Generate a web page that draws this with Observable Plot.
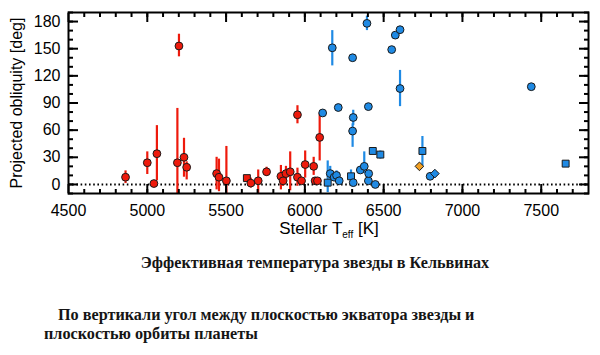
<!DOCTYPE html>
<html>
<head>
<meta charset="utf-8">
<script src="https://cdn.jsdelivr.net/npm/d3@7"></script>
<script src="https://cdn.jsdelivr.net/npm/@observablehq/plot@0.6"></script>
<style>
  body { margin: 0; background: #fff; }
  #wrap { position: relative; width: 600px; height: 355px; overflow: hidden; }
  #chart { position: absolute; left: 0; top: 0; }
  .lab { position: absolute; font-family: "Liberation Sans", Arial, sans-serif; font-size: 16px; color: #000; white-space: nowrap; line-height: 1; }
  .cap { position: absolute; font-family: "Liberation Serif", "Times New Roman", serif; font-weight: bold; font-size: 16.2px; color: #151515; white-space: nowrap; line-height: 1; }
  sub { font-size: 10px; vertical-align: -4px; }
</style>
</head>
<body>
<div id="wrap">
  <div id="chart"></div>
  <div class="lab" id="ylab" style="left:17px;top:103px;transform:translate(-50%,-50%) rotate(-90deg);">Projected obliquity [deg]</div>
  <div class="lab" id="xlab" style="left:329px;top:230px;transform:translate(-50%,-50%);font-size:17px;">Stellar T<sub>eff</sub> [K]</div>
  <div class="cap" style="left:315px;top:263px;transform:translate(-50%,-50%);">Эффективная температура звезды в Кельвинах</div>
  <div class="cap" style="left:58px;top:315px;transform:translateY(-50%);">По вертикали угол между плоскостью экватора звезды и</div>
  <div class="cap" style="left:44px;top:334px;transform:translateY(-50%);">плоскостью орбиты планеты</div>
</div>
<script>
// Stellar effective temperature [K]
const teff = [
  4862, 5000, 5042, 5061, 5191, 5201, 5233, 5250, 5440, 5455,
  5502, 5632, 5657, 5704, 5757, 5848, 5862, 5880, 5907, 5953,
  5953, 5979, 6002, 6056, 6065, 6080, 6094,
  6113, 6145, 6161, 6174, 6186, 6201, 6212, 6218, 6293, 6303,
  6303, 6307, 6307, 6352, 6377, 6394, 6403, 6403, 6405, 6431,
  6447, 6479, 6551, 6574, 6604, 6604, 6746, 6795, 6825, 7437,
  7655,
  6727
];
// Projected obliquity [deg]
const obliquity = [
  8, 24, 1, 34, 24, 153, 30, 19, 12, 8,
  4, 7, 1.5, 4, 14, 9, 4, 12, 14, 77,
  8, 4, 22, 20, 4, 4, 52,
  79, 2, 12, 151, 8, 10, 85, 4, 9, 140,
  59, 74, 2, 16, 20, 178, 86, 4, 12, 37,
  0, 33, 149, 165, 171, 106, 37, 9, 12, 108,
  23,
  20
];
// Lower and upper ends of the error bars [deg]
const errLow = [
  1, 11, 1, 4, -12, 141, 8, 5, -6, -8,
  -10, 7, -4, -10, 9, -6, -2, 5, -7, 67,
  -2, 4, 7, 10, 4, 4, 26,
  79, -9, 4, 131, 8, 6, 85, 4, 3, 137,
  41, 65, 2, 13, 12, 170, 83, 4, 12, 37,
  0, 28, 149, 162, 171, 86, 20, 9, 12, 108,
  23,
  20
];
const errHigh = [
  15, 36, 1, 65, 84, 166, 51, 25, 30, 28,
  42, 7, 7, 16, 19, 21, 12, 20, 36, 87,
  18, 4, 37, 30, 4, 4, 78,
  79, 26, 20, 170, 8, 15, 85, 4, 16, 143,
  67, 82, 2, 20, 36, 186, 89, 4, 12, 37,
  0, 37, 149, 167, 171, 126, 53, 9, 12, 108,
  23,
  20
];
// Group (colour) and marker shape of each system
const group = [
  ...Array(27).fill("cool"),
  ...Array(31).fill("hot"),
  "mid"
];
const marker = [
  "circle","circle","circle","circle","circle","circle","circle","circle","circle","circle",
  "circle","square","circle","circle","circle","circle","circle","circle","circle","circle",
  "circle","circle","circle","circle","circle","circle","circle",
  "circle","square","circle","circle","circle","circle","circle","circle","square","circle",
  "circle","circle","circle","circle","circle","circle","circle","circle","circle","square",
  "circle","square","circle","circle","circle","circle","square","circle","diamond2","circle",
  "square",
  "diamond2"
];
const groups = ["cool", "hot", "mid"];
const groupColors = ["#ee1a0c", "#1f8ae4", "#f2a022"];

// Axis ticks
const xMajor = [4500, 5000, 5500, 6000, 6500, 7000, 7500];
const xMinor = d3.range(4600, 7800, 100);
const yMajor = [0, 30, 60, 90, 120, 150, 180];
const yMinor = d3.range(-10, 191, 10);

const rows = teff.map((t, i) => ({
  t, o: obliquity[i], lo: errLow[i], hi: errHigh[i], g: group[i], m: marker[i]
}));

const tickOpts = {tickFormat: () => "", label: null, strokeWidth: 2};

const chart = Plot.plot({
  width: 600,
  height: 245,
  marginLeft: 68,
  marginRight: 12,
  marginTop: 12,
  marginBottom: 52,
  style: {fontFamily: "Liberation Sans, Arial, sans-serif", fontSize: "16px", color: "#000", background: "#fff"},
  x: {domain: [4500, 7800], axis: null},
  y: {domain: [-10, 190], axis: null},
  color: {domain: groups, range: groupColors},
  symbol: {domain: ["circle", "square", "diamond2"], range: ["circle", "square", "diamond2"]},
  marks: [
    Plot.ruleY([0], {stroke: "#000", strokeWidth: 2, strokeDasharray: "1.6,2.6"}),
    Plot.ruleX(rows.filter(d => d.hi > d.lo), {x: "t", y1: "lo", y2: "hi", stroke: "g", strokeWidth: 2.2, clip: true}),
    Plot.dot(rows, {x: "t", y: "o", fill: "g", symbol: "m", r: 3.9, stroke: "#1a1a1a", strokeWidth: 1}),
    // inward ticks on all four sides
    Plot.axisX(xMajor, {anchor: "bottom", tickSize: -9, ...tickOpts}),
    Plot.axisX(xMinor, {anchor: "bottom", tickSize: -4, ...tickOpts}),
    Plot.axisX(xMajor, {anchor: "top", tickSize: -9, ...tickOpts}),
    Plot.axisX(xMinor, {anchor: "top", tickSize: -4, ...tickOpts}),
    Plot.axisY(yMajor, {anchor: "left", tickSize: -10, ...tickOpts}),
    Plot.axisY(yMinor, {anchor: "left", tickSize: -5, ...tickOpts}),
    Plot.axisY(yMajor, {anchor: "right", tickSize: -10, ...tickOpts}),
    Plot.axisY(yMinor, {anchor: "right", tickSize: -5, ...tickOpts}),
    // tick labels
    Plot.axisX(xMajor, {anchor: "bottom", tickSize: 0, tickPadding: 11, tickFormat: d3.format("d"), label: null}),
    Plot.axisY(yMajor, {anchor: "left", tickSize: 0, tickPadding: 8, tickFormat: d3.format("d"), label: null}),
    Plot.frame({stroke: "#000", strokeWidth: 2})
  ]
});
document.getElementById("chart").appendChild(chart);
</script>
</body>
</html>
